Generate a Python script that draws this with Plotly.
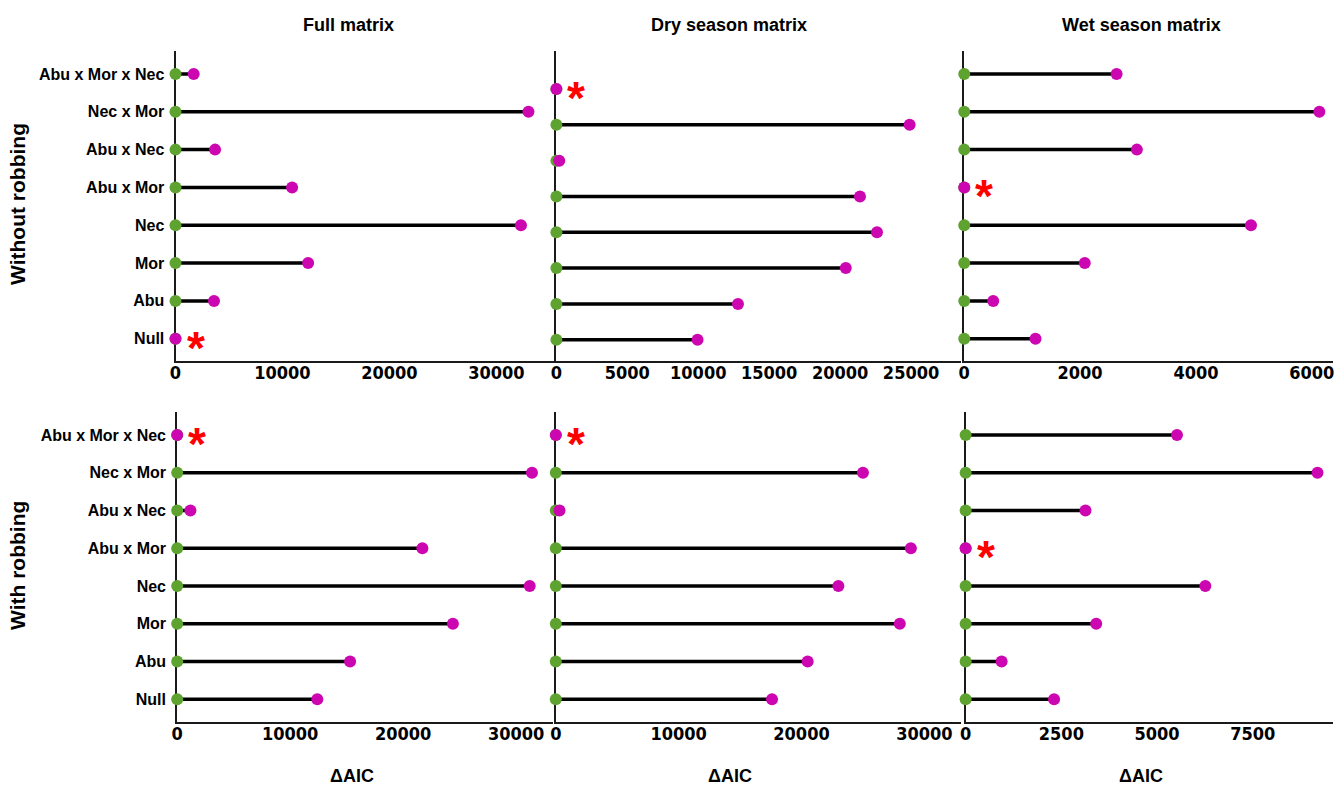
import plotly.graph_objects as go

# Candidate models, listed bottom to top
models = ["Null", "Abu", "Mor", "Nec", "Abu x Mor", "Abu x Nec", "Nec x Mor", "Abu x Mor x Nec"]

# Delta AIC per model, without robbing
full_without = [0, 3600, 12400, 32300, 10900, 3700, 33000, 1700]
dry_without = [9950, 12800, 20400, 22600, 21400, 200, 24900, 0]
wet_without = [1230, 500, 2080, 4950, 0, 2980, 6130, 2630]

# Delta AIC per model, with robbing
full_with = [12400, 15300, 24400, 31200, 21700, 1170, 31400, 0]
dry_with = [17600, 20500, 28000, 23000, 28900, 300, 25000, 0]
wet_with = [2310, 940, 3410, 6260, 0, 3130, 9190, 5520]

column_titles = ["Full matrix", "Dry season matrix", "Wet season matrix"]
row_titles = ["Without robbing", "With robbing"]
x_title = "ΔAIC"

# Tick values per panel (row-major: top row then bottom row)
ticks_full_without = [0, 10000, 20000, 30000]
ticks_dry_without = [0, 5000, 10000, 15000, 20000, 25000]
ticks_wet_without = [0, 2000, 4000, 6000]
ticks_full_with = [0, 10000, 20000, 30000]
ticks_dry_with = [0, 10000, 20000, 30000]
ticks_wet_with = [0, 2500, 5000, 7500]

W, H = 1336, 786
GREEN = "#5ea230"
MAGENTA = "#cc06b0"
FONT = "Liberation Sans, Arial, sans-serif"
NARROW = "Liberation Sans Narrow, Arial Narrow, DejaVu Sans Condensed, Liberation Sans, sans-serif"


def px_x(p):
    return p / W


def px_y(p):
    return 1 - p / H


panels = [
    # values, ticks, x pixel domain, x max, y pixel domain (top, bottom), y range
    (full_without, ticks_full_without, (170.4, 551), 35400, (51.3, 361.4), [-0.6, 7.6]),
    (dry_without, ticks_dry_without, (553.3, 960), 28520, (51.3, 361.4), [-0.606, 8.053]),
    (wet_without, ticks_wet_without, (963.3, 1334), 6366, (51.3, 361.4), [-0.6, 7.6]),
    (full_with, ticks_full_with, (172.1, 550), 33270, (412.4, 722), [-0.6, 7.6]),
    (dry_with, ticks_dry_with, (552.7, 960), 32980, (412.4, 722), [-0.6, 7.6]),
    (wet_with, ticks_wet_with, (964.7, 1334), 9595, (412.4, 722), [-0.6, 7.6]),
]

fig = go.Figure()
annotations = []

for i, (vals, ticks, xdom, xmax, ydom, yrange) in enumerate(panels):
    n = i + 1
    xa = "x" if n == 1 else f"x{n}"
    ya = "y" if n == 1 else f"y{n}"

    # Segments from zero to each model's delta AIC
    seg_x, seg_y = [], []
    for m, v in zip(models, vals):
        seg_x += [0, v, None]
        seg_y += [m, m, None]
    fig.add_trace(go.Scatter(
        x=seg_x, y=seg_y, mode="lines", xaxis=xa, yaxis=ya,
        line=dict(color="black", width=3.5), hoverinfo="skip", showlegend=False,
    ))
    # Reference point at zero
    fig.add_trace(go.Scatter(
        x=[0] * len(models), y=models, mode="markers", xaxis=xa, yaxis=ya,
        marker=dict(color=GREEN, size=12, line=dict(width=0)),
        cliponaxis=False, showlegend=False,
    ))
    # Model delta AIC
    fig.add_trace(go.Scatter(
        x=vals, y=models, mode="markers", xaxis=xa, yaxis=ya,
        marker=dict(color=MAGENTA, size=12, line=dict(width=0)),
        cliponaxis=False, showlegend=False,
    ))

    # Star on the best-supported model (delta AIC of zero)
    for m, v in zip(models, vals):
        if v == 0:
            annotations.append(dict(
                x=v, y=m, xref=xa, yref=ya, text="*", showarrow=False,
                xanchor="center", yanchor="middle", xshift=20, yshift=-9,
                font=dict(family=FONT, size=46, color="#ff0000", weight="bold"),
            ))

    xaxis_cfg = dict(
        domain=[px_x(xdom[0]), px_x(xdom[1])], anchor=ya, range=[0, xmax],
        tickvals=ticks, ticktext=[str(t) for t in ticks],
        showline=True, linecolor="#1a1a1a", linewidth=2, layer="below traces",
        showgrid=False, zeroline=False, ticks="", ticklabelstandoff=-6,
        ticklabeloverflow="allow",
        tickfont=dict(family=NARROW, size=18, color="black", weight="bold"),
    )
    yaxis_cfg = dict(
        domain=[px_y(ydom[1]), px_y(ydom[0])], anchor=xa, type="category",
        categoryarray=models, range=yrange,
        showline=True, linecolor="#1a1a1a", linewidth=2, layer="below traces",
        showgrid=False, zeroline=False, ticks="",
        showticklabels=(i % 3 == 0), ticklabelstandoff=6,
        tickfont=dict(family=FONT, size=16, color="black", weight="bold"),
    )
    fig.update_layout(**{
        ("xaxis" if n == 1 else f"xaxis{n}"): xaxis_cfg,
        ("yaxis" if n == 1 else f"yaxis{n}"): yaxis_cfg,
    })

# Column titles and x-axis titles
for t, cx in zip(column_titles, [344, 727, 1141]):
    annotations.append(dict(
        x=px_x(cx), y=px_y(25), xref="paper", yref="paper", text=t, showarrow=False,
        xanchor="center", yanchor="middle",
        font=dict(family=FONT, size=18, color="black", weight="bold"),
    ))
for cx in [348, 728, 1141]:
    annotations.append(dict(
        x=px_x(cx), y=px_y(776), xref="paper", yref="paper", text=x_title, showarrow=False,
        xanchor="center", yanchor="middle",
        font=dict(family=FONT, size=18, color="black", weight="bold"),
    ))
# Row titles
for t, cy in zip(row_titles, [204, 565]):
    annotations.append(dict(
        x=px_x(11), y=px_y(cy), xref="paper", yref="paper", text=t, showarrow=False,
        xanchor="center", yanchor="middle", textangle=-90,
        font=dict(family=FONT, size=21, color="black", weight="bold"),
    ))

fig.update_layout(
    width=W, height=H, margin=dict(l=0, r=0, t=0, b=0),
    paper_bgcolor="white", plot_bgcolor="white",
    annotations=annotations, showlegend=False,
)

fig.write_html("out.html")
